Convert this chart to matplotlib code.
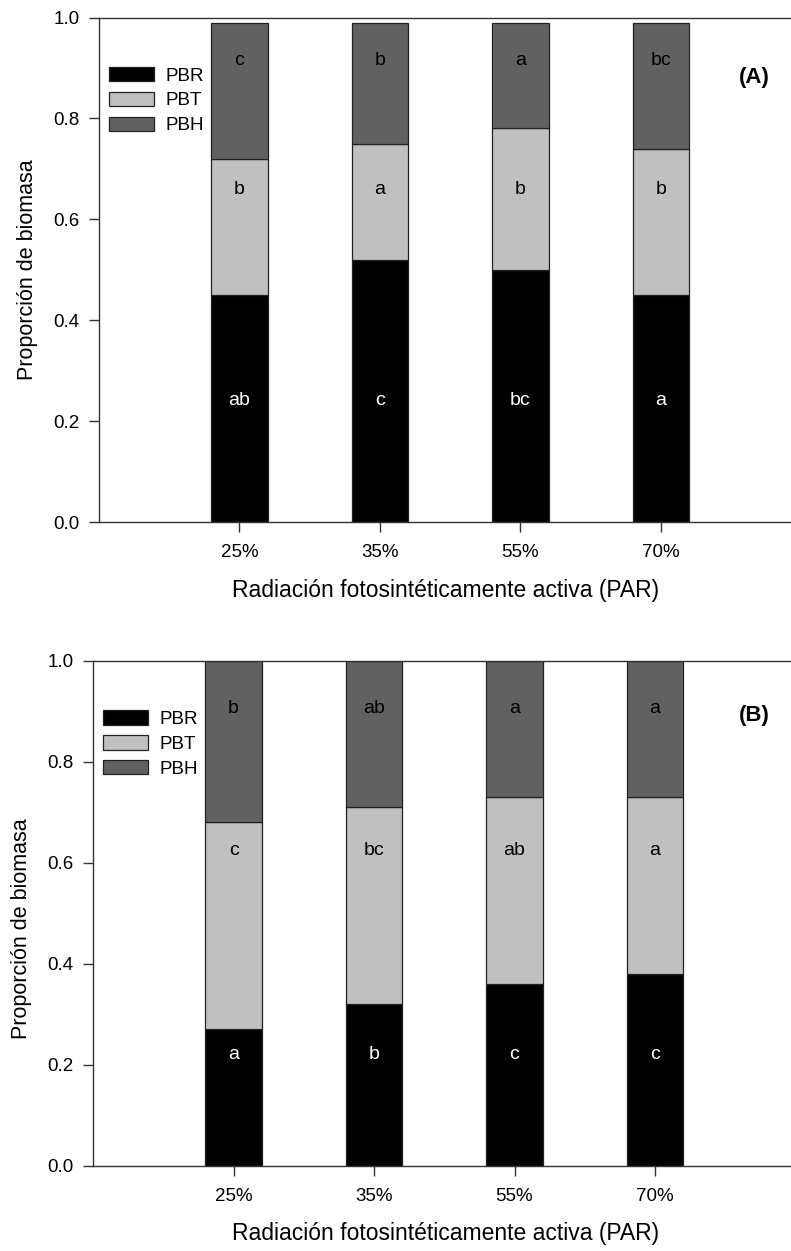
"""Proporción de biomasa (PBR, PBT, PBH) según radiación fotosintéticamente activa.

Dos paneles de barras apiladas: (A) arriba, (B) abajo.
"""
import numpy as np
import matplotlib.pyplot as plt

plt.rcParams['font.family'] = ['Liberation Sans', 'DejaVu Sans']

# datos
categorias = ['25%', '35%', '55%', '70%']
capas = ['PBR', 'PBT', 'PBH']

# panel A
pbr_a = [0.45, 0.52, 0.50, 0.45]
pbt_a = [0.27, 0.23, 0.28, 0.29]
pbh_a = [0.27, 0.24, 0.21, 0.25]
letras_pbr_a = ['ab', 'c', 'bc', 'a']
letras_pbt_a = ['b', 'a', 'b', 'b']
letras_pbh_a = ['c', 'b', 'a', 'bc']

# panel B
pbr_b = [0.27, 0.32, 0.36, 0.38]
pbt_b = [0.41, 0.39, 0.37, 0.35]
pbh_b = [0.32, 0.29, 0.27, 0.27]
letras_pbr_b = ['a', 'b', 'c', 'c']
letras_pbt_b = ['c', 'bc', 'ab', 'a']
letras_pbh_b = ['b', 'ab', 'a', 'a']

colores = ['black', '#c0c0c0', '#616161']
color_letra = ['white', 'black', 'black']

W, H = 791, 1251
fig = plt.figure(figsize=(W / 100, H / 100), dpi=100)

paneles = [
    # (datos, letras, etiqueta, left px, top px, alturas de letras,
    #  y etiqueta, x e y de la etiqueta del eje y)
    ([pbr_a, pbt_a, pbh_a], [letras_pbr_a, letras_pbt_a, letras_pbh_a], '(A)',
     99, 17.5, [0.24, 0.66, 0.915], 0.881, 38, 0.5),
    ([pbr_b, pbt_b, pbh_b], [letras_pbr_b, letras_pbt_b, letras_pbh_b], '(B)',
     93, 661, [0.22, 0.625, 0.905], 0.891, 32, 0.47),
]

paso = 140.5  # px entre barras
alto = 504.5
ancho = 5 * paso

for datos, letras, etiqueta, left, top, y_letras, y_et, x_yl, y_yl in paneles:
    ax = fig.add_axes([left / W, 1 - (top + alto) / H, ancho / W, alto / H])
    x = np.arange(1, len(categorias) + 1)
    base = np.zeros(len(categorias))
    for serie, color, nombre in zip(datos, colores, capas):
        ax.bar(x, serie, width=0.4, bottom=base, color=color,
               edgecolor='#222222', linewidth=0.9, label=nombre)
        base = base + np.array(serie)

    # letras de significancia
    for lets, yl, cl in zip(letras, y_letras, color_letra):
        for xi, t in zip(x, lets):
            ax.text(xi, yl, t, ha='center', va='center', fontsize=14, color=cl)

    ax.set_xlim(0, 5)
    ax.set_ylim(0, 1.0)
    ax.set_xticks(x)
    ax.set_xticklabels(categorias)
    ax.set_yticks(np.arange(0, 1.01, 0.2))
    ax.set_yticklabels([f'{v:.1f}' for v in np.arange(0, 1.01, 0.2)])
    ax.tick_params(direction='out', length=7, width=1, labelsize=13.5,
                   colors='#333333', labelcolor='black', pad=7)
    ax.tick_params(axis='x', pad=9)
    ax.spines['right'].set_visible(False)
    for s in ['left', 'top', 'bottom']:
        ax.spines[s].set_color('#333333')
        ax.spines[s].set_linewidth(1)

    ax.set_ylabel('Proporción de biomasa', fontsize=15.5)
    ax.yaxis.set_label_coords((x_yl - left) / ancho, y_yl)
    ax.set_xlabel('Radiación fotosintéticamente activa (PAR)', fontsize=16.5)
    # la etiqueta x queda centrada en la parte visible
    ax.xaxis.set_label_coords((446 - left) / ancho, -0.112)

    ax.legend(loc='upper left', bbox_to_anchor=(10 / ancho, 0.902),
              frameon=False, fontsize=13.5, handlelength=2.4,
              handleheight=0.8, labelspacing=0.38, borderpad=0,
              borderaxespad=0, handletextpad=0.6)

    ax.text((754 - left) / ancho, y_et, etiqueta, transform=ax.transAxes,
            ha='center', va='center', fontsize=16, fontweight='bold')

plt.savefig('out.png', dpi=100)
plt.close()
